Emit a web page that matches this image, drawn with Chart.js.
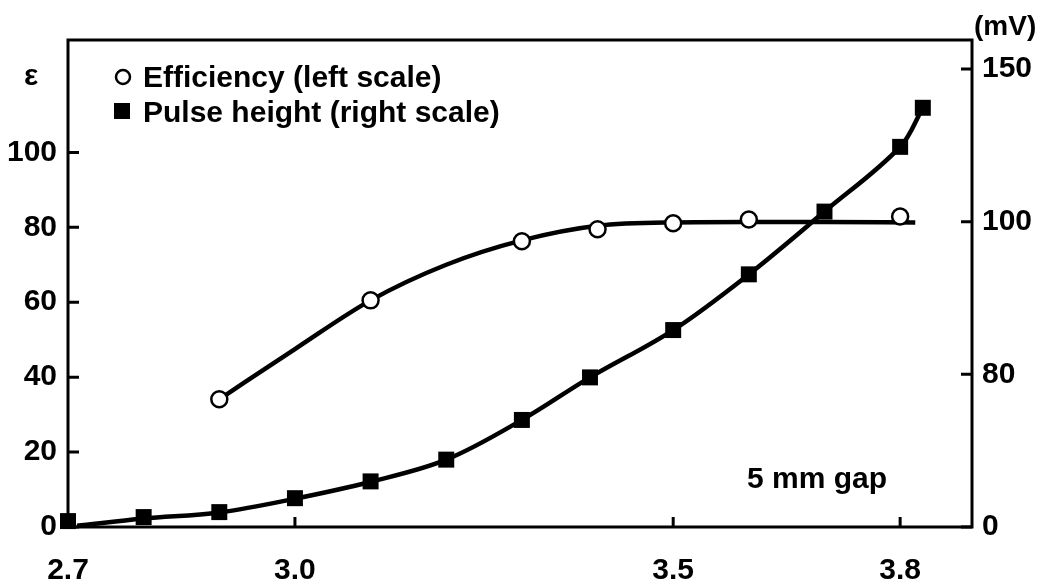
<!DOCTYPE html>
<html>
<head>
<meta charset="utf-8">
<script src="https://cdn.jsdelivr.net/npm/chart.js@4.4.1/dist/chart.umd.min.js"></script>
<style>
  html, body { margin: 0; padding: 0; background: #fff; }
  #wrap { width: 1046px; height: 588px; position: relative; }
</style>
</head>
<body>
<div id="wrap"><canvas id="c"></canvas></div>
<script>
// ---- data ----
const xTicks = [2.7, 3.0, 3.5, 3.8];
const leftTicks = [0, 20, 40, 60, 80, 100];
const rightTicks = [0, 80, 100, 150];

// Efficiency (%) — open circles, left scale
const effX = [2.9, 3.1, 3.3, 3.4, 3.5, 3.6, 3.8];
const effY = [34.1, 60.5, 76.3, 79.5, 81.1, 82.1, 82.9];
// Efficiency fitted curve
const effCurveX = [2.9, 3.0, 3.1, 3.2, 3.3, 3.4, 3.5, 3.6, 3.7, 3.82];
const effCurveY = [34.1, 47.5, 60.5, 70.0, 76.5, 80.4, 81.3, 81.4, 81.4, 81.3];

// Pulse height (mV) — filled squares, right scale
const pulseX = [2.7, 2.8, 2.9, 3.0, 3.1, 3.2, 3.3, 3.39, 3.5, 3.6, 3.7, 3.8, 3.83];
const pulseY = [3.1, 5.2, 7.8, 15.1, 23.9, 35.3, 56.1, 78.4, 85.8, 93.1, 103.3, 124.5, 137.3];
// Pulse height fitted curve
const pulseCurveX = [2.712, 2.8, 2.9, 3.0, 3.1, 3.2, 3.3, 3.39, 3.5, 3.6, 3.7, 3.8, 3.83];
const pulseCurveY = [0.6, 4.4, 7.6, 14.8, 23.7, 35.3, 56.1, 78.4, 85.8, 93.1, 103.3, 124.5, 137.3];

const pts = (xs, ys) => xs.map((x, i) => ({ x: x, y: ys[i] }));

// Right scale of the original is labelled with equally spaced, non-linear ticks
class PiecewiseScale extends Chart.LinearScale {
  static id = 'piecewise';
  static defaults = Chart.LinearScale.defaults;
  _idx(v) {
    const b = rightTicks, n = b.length;
    if (v <= b[1]) return (v - b[0]) / (b[1] - b[0]);
    for (let i = 1; i < n - 1; i++) {
      if (v <= b[i + 1]) return i + (v - b[i]) / (b[i + 1] - b[i]);
    }
    return (n - 1) + (v - b[n - 1]) / (b[n - 1] - b[n - 2]);
  }
  _val(idx) {
    const b = rightTicks, n = b.length;
    if (idx <= 1) return b[0] + idx * (b[1] - b[0]);
    if (idx >= n - 1) return b[n - 1] + (idx - (n - 1)) * (b[n - 1] - b[n - 2]);
    const i = Math.floor(idx);
    return b[i] + (idx - i) * (b[i + 1] - b[i]);
  }
  getPixelForValue(v) {
    const i0 = this._idx(this.min), i1 = this._idx(this.max);
    return this.bottom - (this._idx(v) - i0) / (i1 - i0) * (this.bottom - this.top);
  }
  getValueForPixel(p) {
    const i0 = this._idx(this.min), i1 = this._idx(this.max);
    return this._val(i0 + (this.bottom - p) / (this.bottom - this.top) * (i1 - i0));
  }
}
Chart.register(PiecewiseScale);

const FONT = 'Liberation Sans, Arial, sans-serif';

const framePlugin = {
  id: 'frame',
  beforeDatasetsDraw(chart) {
    const { ctx, chartArea: a, scales } = chart;
    ctx.save();
    ctx.strokeStyle = '#000';
    ctx.lineWidth = 3;
    ctx.strokeRect(a.left, a.top, a.right - a.left, a.bottom - a.top);
    ctx.beginPath();
    scales.y.ticks.forEach(t => {
      const y = scales.y.getPixelForValue(t.value);
      ctx.moveTo(a.left, y); ctx.lineTo(a.left + 11, y);
    });
    scales.y1.ticks.forEach(t => {
      const y = scales.y1.getPixelForValue(t.value);
      ctx.moveTo(a.right, y); ctx.lineTo(a.right - 11, y);
    });
    scales.x.ticks.forEach(t => {
      const x = scales.x.getPixelForValue(t.value);
      ctx.moveTo(x, a.bottom); ctx.lineTo(x, a.bottom - 10);
    });
    ctx.stroke();
    ctx.restore();
  },
  afterDraw(chart) {
    const { ctx } = chart;
    ctx.save();
    ctx.fillStyle = '#000';
    ctx.textBaseline = 'alphabetic';
    ctx.font = 'bold 30px ' + FONT;
    ctx.textAlign = 'left';
    // legend
    ctx.beginPath();
    ctx.arc(123, 77, 7, 0, Math.PI * 2);
    ctx.fillStyle = '#fff'; ctx.fill();
    ctx.lineWidth = 2.5; ctx.strokeStyle = '#000'; ctx.stroke();
    ctx.fillStyle = '#000';
    ctx.fillText('Efficiency (left scale)', 143, 87);
    ctx.fillRect(114, 103, 16, 16);
    ctx.fillText('Pulse height (right scale)', 143, 122);
    // annotations
    ctx.fillText('5 mm gap', 747, 488);
    ctx.textAlign = 'center';
    ctx.fillText('ε', 31, 85);
    ctx.textAlign = 'left';
    ctx.font = 'bold 28px ' + FONT;
    ctx.fillText('(mV)', 974, 35);
    ctx.restore();
  }
};

new Chart(document.getElementById('c'), {
  type: 'scatter',
  data: {
    datasets: [
      {
        label: 'Efficiency curve', data: pts(effCurveX, effCurveY), yAxisID: 'y',
        showLine: true, pointRadius: 0, borderColor: '#000', borderWidth: 4.5,
        cubicInterpolationMode: 'monotone', order: 3
      },
      {
        label: 'Pulse height curve', data: pts(pulseCurveX, pulseCurveY), yAxisID: 'y1',
        showLine: true, pointRadius: 0, borderColor: '#000', borderWidth: 4.5,
        tension: 0.35, order: 3, clip: false
      },
      {
        label: 'Efficiency (left scale)', data: pts(effX, effY), yAxisID: 'y',
        showLine: false, pointStyle: 'circle', pointRadius: 8, pointBorderWidth: 2.5,
        pointBackgroundColor: '#fff', pointBorderColor: '#000', order: 1, clip: false
      },
      {
        label: 'Pulse height (right scale)', data: pts(pulseX, pulseY), yAxisID: 'y1',
        showLine: false, pointStyle: 'rect', pointRadius: 11.3, pointBorderWidth: 0,
        pointBackgroundColor: '#000', pointBorderColor: '#000', order: 1, clip: false
      }
    ]
  },
  options: {
    responsive: true,
    maintainAspectRatio: false,
    animation: false,
    events: [],
    layout: { padding: { left: 0, right: 0, top: 40, bottom: 0 } },
    plugins: { legend: { display: false }, tooltip: { enabled: false } },
    font: { family: FONT },
    scales: {
      x: {
        type: 'linear', min: 2.7, max: 3.895,
        grid: { display: false, tickLength: 0 }, border: { display: false },
        afterBuildTicks: s => { s.ticks = xTicks.map(v => ({ value: v })); },
        afterFit: s => { s.height = 61; },
        ticks: {
          color: '#000', padding: 26, maxRotation: 0,
          font: { family: FONT, size: 30, weight: 'bold' },
          callback: v => Number(v).toFixed(1)
        }
      },
      y: {
        type: 'linear', position: 'left', min: 0, max: 130,
        grid: { display: false, tickLength: 0 }, border: { display: false },
        afterBuildTicks: s => { s.ticks = leftTicks.map(v => ({ value: v })); },
        afterFit: s => { s.width = 68; },
        ticks: {
          color: '#000', padding: 11,
          font: { family: FONT, size: 30, weight: 'bold' },
          callback: v => String(v)
        }
      },
      y1: {
        type: 'piecewise', position: 'right', min: 0, max: 159.5,
        grid: { display: false, tickLength: 0 }, border: { display: false },
        afterBuildTicks: s => { s.ticks = rightTicks.map(v => ({ value: v })); },
        afterFit: s => { s.width = 74; },
        ticks: {
          color: '#000', padding: 10,
          font: { family: FONT, size: 30, weight: 'bold' },
          callback: v => String(v)
        }
      }
    }
  },
  plugins: [framePlugin]
});
</script>
</body>
</html>
